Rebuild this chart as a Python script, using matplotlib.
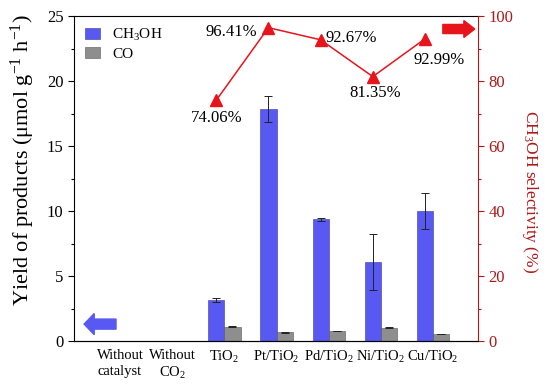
import numpy as np
import matplotlib
matplotlib.use("Agg")
from matplotlib import pyplot as plt
from matplotlib.patches import FancyArrow

plt.rcParams["font.family"] = ["Liberation Serif", "DejaVu Serif"]
plt.rcParams["mathtext.fontset"] = "custom"
plt.rcParams["mathtext.rm"] = "Liberation Serif"
plt.rcParams["mathtext.it"] = "Liberation Serif:italic"
plt.rcParams["mathtext.bf"] = "Liberation Serif:bold"

categories = ["Without\ncatalyst", "Without\nCO$_2$", "TiO$_2$", "Pt/TiO$_2$",
              "Pd/TiO$_2$", "Ni/TiO$_2$", "Cu/TiO$_2$"]
ch3oh = [0, 0, 3.12, 17.85, 9.35, 6.08, 9.98]
ch3oh_err = [0, 0, 0.15, 1.0, 0.13, 2.15, 1.4]
co = [0, 0, 1.1, 0.67, 0.77, 1.02, 0.54]
co_err = [0, 0, 0.03, 0.03, 0.03, 0.04, 0.03]
selectivity = [74.06, 96.41, 92.67, 81.35, 92.99]
sel_labels = ["74.06%", "96.41%", "92.67%", "81.35%", "92.99%"]

blue = "#5858f2"
gray = "#8e8e8e"
red = "#e8141b"
dark_red = "#b01818"

fig = plt.figure(figsize=(5.5, 3.89), dpi=100)
ax = fig.add_axes([74 / 550, 48 / 389, 404 / 550, 325 / 389])

x = np.arange(len(categories))
w = 0.31
bars_ids = [i for i in range(len(categories)) if ch3oh[i] > 0]
xb = np.array(bars_ids)
ax.bar(xb - w / 2, [ch3oh[i] for i in bars_ids], w, color=blue, edgecolor="#3a3aa0",
       linewidth=0.4, yerr=[ch3oh_err[i] for i in bars_ids], capsize=3,
       error_kw=dict(elinewidth=0.7, capthick=0.7, ecolor="#222222"), label="CH$_3$OH")
ax.bar(xb + w / 2, [co[i] for i in bars_ids], w, color=gray, edgecolor="#555555",
       linewidth=0.4, yerr=[co_err[i] for i in bars_ids], capsize=3,
       error_kw=dict(elinewidth=0.7, capthick=0.7, ecolor="#222222"), label="CO")

ax.set_xlim(-0.88, 6.86)
ax.set_ylim(0, 25)
ax.set_xticks(x)
ax.set_xticklabels(categories, fontsize=10.5, linespacing=1.25)
ax.tick_params(axis="x", length=0, pad=6)
ax.set_yticks([0, 5, 10, 15, 20, 25])
ax.set_yticks(np.arange(2.5, 25, 5), minor=True)
ax.tick_params(axis="y", labelsize=12, direction="out", length=4, width=0.8)
ax.tick_params(axis="y", which="minor", length=2.5, width=0.8)
ax.set_ylabel("Yield of products (μmol g$^{-1}$ h$^{-1}$)", fontsize=16, va="center")
ax.yaxis.set_label_coords(-0.127, 0.557)
ax.spines["right"].set_visible(False)
ax.legend(loc="upper left", frameon=False, fontsize=11, handlelength=1.0,
          handleheight=0.8, borderaxespad=0.3, labelspacing=0.25, handletextpad=0.8)

ax2 = ax.twinx()
ax2.set_ylim(0, 100)
ax2.plot(xb - w / 2, selectivity, color=red, marker="^", markersize=9, linewidth=1.1)
offsets = [(0, -13), (-27, -3), (22, 1.5), (1.5, -12), (10, -15)]
for xi, yi, lab, off in zip(xb - w / 2, selectivity, sel_labels, offsets):
    ax2.annotate(lab, (xi, yi), xytext=off, textcoords="offset points",
                 ha="center", va="center", fontsize=12)
ax2.set_yticks([0, 20, 40, 60, 80, 100])
ax2.set_yticks(np.arange(10, 100, 20), minor=True)
ax2.tick_params(axis="y", colors=dark_red, labelsize=12, direction="out", length=4, width=0.8)
ax2.tick_params(axis="y", which="minor", colors=dark_red, length=2.5, width=0.8)
ax2.spines["right"].set_color(dark_red)
ax2.spines["left"].set_visible(False)
ax2.spines["top"].set_visible(False)
ax2.set_ylabel("CH$_3$OH selectivity (%)", fontsize=12.5, color=dark_red, rotation=270,
               va="center")
ax2.yaxis.set_label_coords(1.129, 0.46)

ax.add_patch(FancyArrow(0.104, 0.052, -0.079, 0, width=0.031, head_width=0.065,
                        head_length=0.025, transform=ax.transAxes, color=blue,
                        length_includes_head=True, clip_on=False))
ax2.add_patch(FancyArrow(0.913, 0.96, 0.079, 0, width=0.028, head_width=0.052,
                         head_length=0.027, transform=ax2.transAxes, color=red,
                         length_includes_head=True, clip_on=False))

fig.savefig("out.png", dpi=100)
